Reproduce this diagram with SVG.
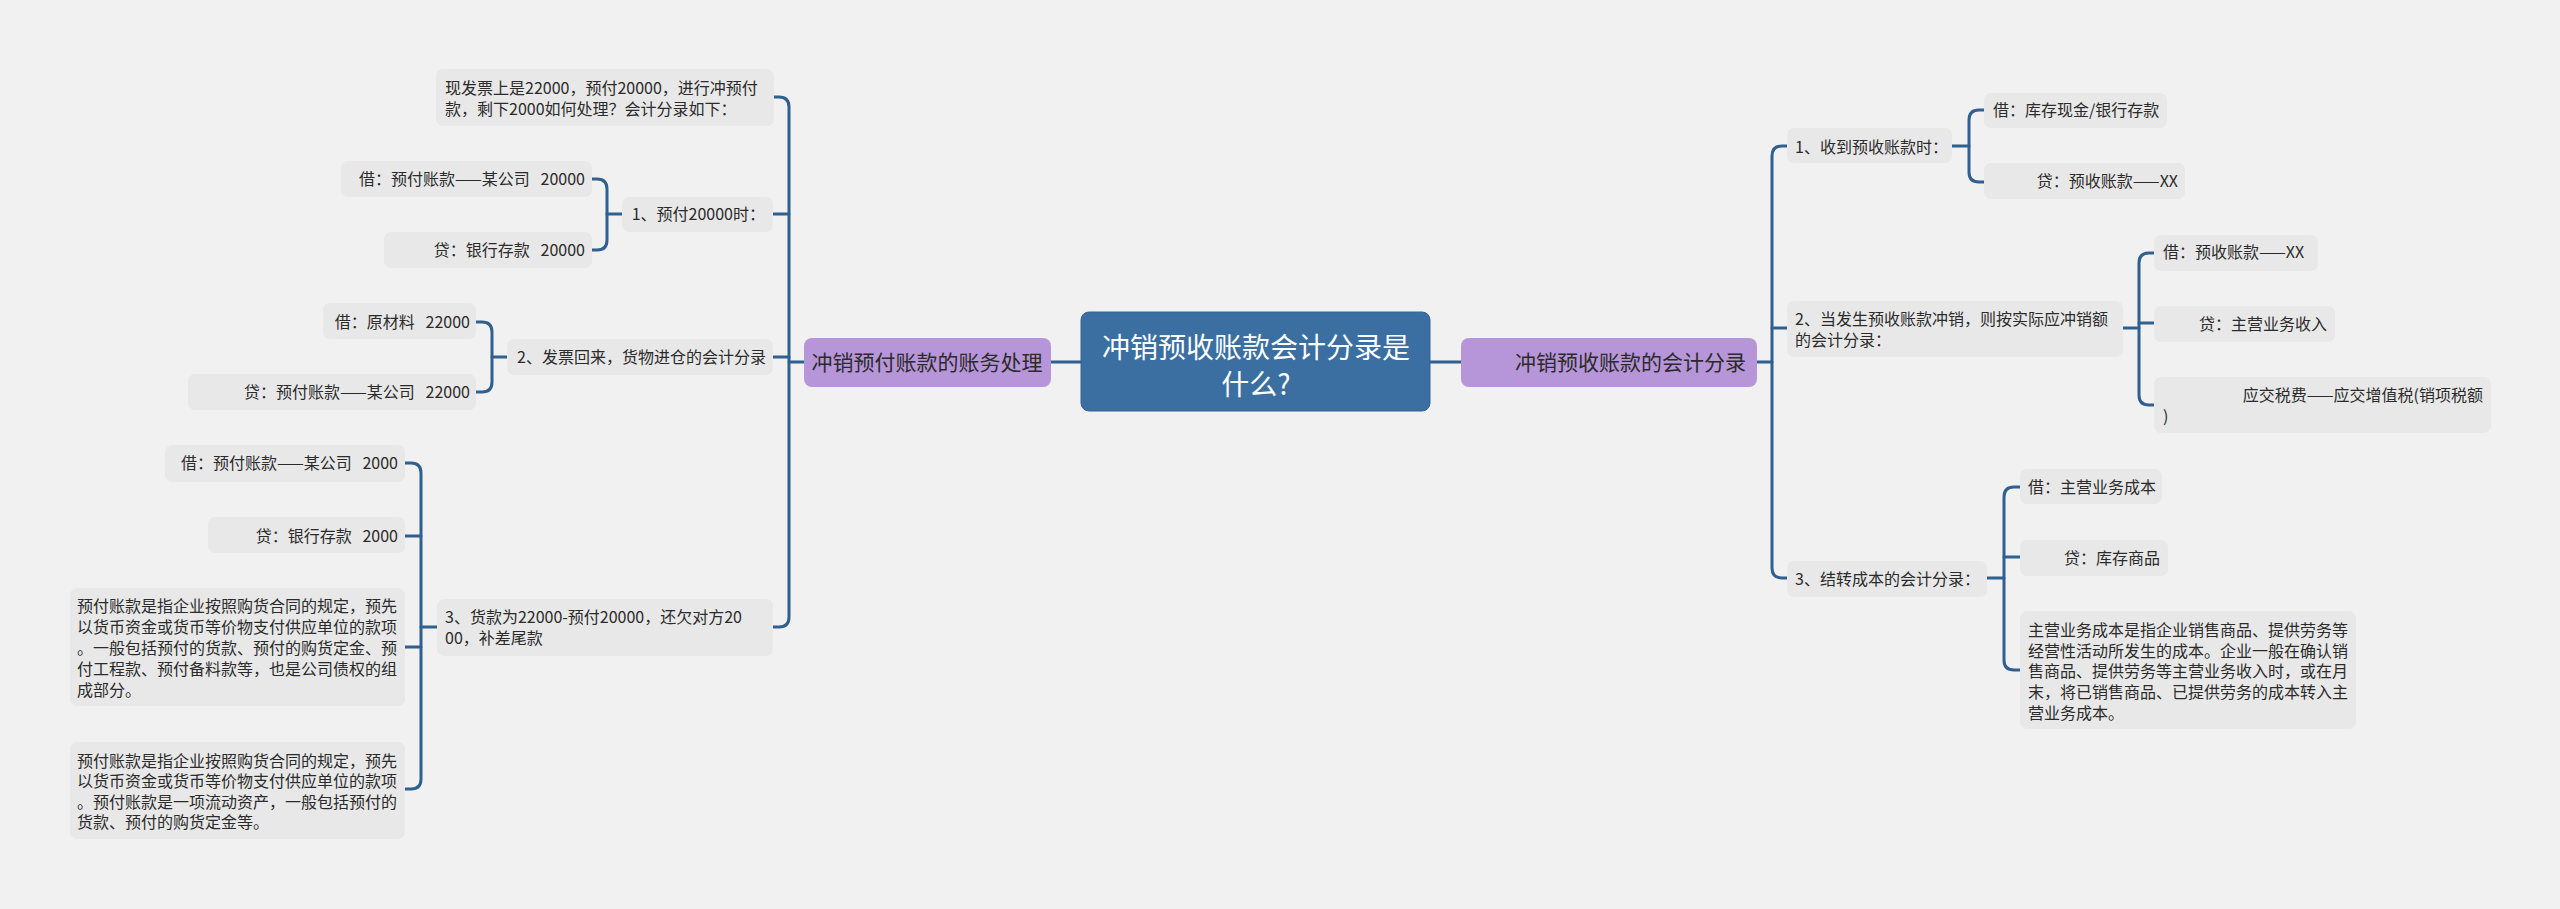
<svg xmlns="http://www.w3.org/2000/svg" width="2560" height="909" viewBox="0 0 2560 909">
<style>
.bg{fill:#f1f1f1}
.box{fill:#e8e8e8}
.t{font-family:"Noto Sans CJK SC","Noto Sans",sans-serif;font-size:16px;fill:#2b2b2b}
.e{text-anchor:end}
.sub{fill:#b795d9}
.st{font-family:"Noto Sans CJK SC","Noto Sans",sans-serif;font-size:21px;fill:#2b2b2b}
.root{fill:#3b6fa1;stroke:#33659a;stroke-width:1}
.rt{font-family:"Noto Sans CJK SC","Noto Sans",sans-serif;font-size:28px;fill:#ffffff;text-anchor:middle}
.c path{fill:none;stroke:#2f6090;stroke-width:3;stroke-linecap:round}
</style>
<rect class="bg" x="0" y="0" width="2560" height="909"/>
<g class="c" id="connectors">
<path d="M1051 362 H1081"/>
<path d="M1430 362 H1461"/>
<path d="M773 97 H779 Q789 97 789 107 V617 Q789 627 779 627 H773"/>
<path d="M804 362 H789"/>
<path d="M773 214 H789"/>
<path d="M773 357 H789"/>
<path d="M592 179 H597 Q607 179 607 189 V240 Q607 250 597 250 H592"/>
<path d="M622 214 H607"/>
<path d="M476 322 H482 Q492 322 492 332 V382 Q492 392 482 392 H476"/>
<path d="M507 357 H492"/>
<path d="M405 463 H411 Q421 463 421 473 V779 Q421 789 411 789 H405"/>
<path d="M437 627 H421"/>
<path d="M405 536 H421"/>
<path d="M405 647 H421"/>
<path d="M1787 146 H1782 Q1772 146 1772 156 V568 Q1772 578 1782 578 H1787"/>
<path d="M1757 362 H1772"/>
<path d="M1772 328 H1787"/>
<path d="M1984 110 H1979 Q1969 110 1969 120 V172 Q1969 182 1979 182 H1984"/>
<path d="M1952 146 H1969"/>
<path d="M2154 253 H2149 Q2139 253 2139 263 V395 Q2139 405 2149 405 H2154"/>
<path d="M2123 328 H2139"/>
<path d="M2139 323 H2154"/>
<path d="M2020 487 H2014 Q2004 487 2004 497 V660 Q2004 670 2014 670 H2020"/>
<path d="M1987 578 H2004"/>
<path d="M2004 557 H2020"/>
</g>
<g id="root"><rect class="root" x="1081" y="312" width="349" height="99" rx="8"/><text class="rt" x="1256" y="358">冲销预收账款会计分录是</text><text class="rt" x="1256" y="395">什么?</text></g>
<g id="left-main"><rect class="sub" x="804" y="338" width="247" height="49" rx="8"/><text class="st" x="927" y="369.5" text-anchor="middle">冲销预付账款的账务处理</text></g>
<g id="right-main"><rect class="sub" x="1461" y="338" width="296" height="49" rx="8"/><text class="st" x="1746" y="369.5" text-anchor="end">冲销预收账款的会计分录</text></g>
<g id="L0"><rect class="box" x="436" y="69" width="338" height="57" rx="7"/><text class="t" x="445" y="94">现发票上是22000，预付20000，进行冲预付</text><text class="t" x="445" y="115">款，剩下2000如何处理？会计分录如下：</text></g>
<g id="L1"><rect class="box" x="622" y="197" width="151" height="35" rx="7"/><text class="t e" x="765" y="220">1、预付20000时：</text></g>
<g id="L1a"><rect class="box" x="341" y="161" width="251" height="36" rx="7"/><text class="t e" x="585" y="185" xml:space="preserve">借：预付账款——某公司   20000</text></g>
<g id="L1b"><rect class="box" x="384" y="232" width="208" height="36" rx="7"/><text class="t e" x="585" y="256" xml:space="preserve">贷：银行存款   20000</text></g>
<g id="L2"><rect class="box" x="507" y="339" width="266" height="36" rx="7"/><text class="t e" x="766" y="362.5">2、发票回来，货物进仓的会计分录</text></g>
<g id="L2a"><rect class="box" x="323" y="303" width="153" height="36" rx="7"/><text class="t e" x="470" y="328" xml:space="preserve">借：原材料   22000</text></g>
<g id="L2b"><rect class="box" x="188" y="374" width="288" height="36" rx="7"/><text class="t e" x="470" y="398" xml:space="preserve">贷：预付账款——某公司   22000</text></g>
<g id="L3"><rect class="box" x="437" y="599" width="336" height="57" rx="7"/><text class="t" x="445" y="623">3、货款为22000-预付20000，还欠对方20</text><text class="t" x="445" y="644">00，补差尾款</text></g>
<g id="L3a"><rect class="box" x="165" y="445" width="240" height="37" rx="7"/><text class="t e" x="398" y="469" xml:space="preserve">借：预付账款——某公司   2000</text></g>
<g id="L3b"><rect class="box" x="208" y="517" width="197" height="36" rx="7"/><text class="t e" x="398" y="542" xml:space="preserve">贷：银行存款   2000</text></g>
<g id="L3c"><rect class="box" x="70" y="588" width="335" height="118" rx="7"/><text class="t" x="77" y="612">预付账款是指企业按照购货合同的规定，预先</text><text class="t" x="77" y="633">以货币资金或货币等价物支付供应单位的款项</text><text class="t" x="77" y="654">。一般包括预付的货款、预付的购货定金、预</text><text class="t" x="77" y="675">付工程款、预付备料款等，也是公司债权的组</text><text class="t" x="77" y="696">成部分。</text></g>
<g id="L3d"><rect class="box" x="70" y="742" width="335" height="97" rx="7"/><text class="t" x="77" y="767">预付账款是指企业按照购货合同的规定，预先</text><text class="t" x="77" y="787">以货币资金或货币等价物支付供应单位的款项</text><text class="t" x="77" y="808">。预付账款是一项流动资产，一般包括预付的</text><text class="t" x="77" y="828">货款、预付的购货定金等。</text></g>
<g id="R1"><rect class="box" x="1787" y="128" width="165" height="35" rx="7"/><text class="t" x="1795" y="153">1、收到预收账款时：</text></g>
<g id="R1a"><rect class="box" x="1984" y="93" width="183" height="35" rx="7"/><text class="t" x="1993" y="116">借：库存现金/银行存款</text></g>
<g id="R1b"><rect class="box" x="1984" y="163" width="201" height="36" rx="7"/><text class="t e" x="2178" y="187">贷：预收账款——XX</text></g>
<g id="R2"><rect class="box" x="1787" y="301" width="336" height="56" rx="7"/><text class="t" x="1795" y="325">2、当发生预收账款冲销，则按实际应冲销额</text><text class="t" x="1795" y="346">的会计分录：</text></g>
<g id="R2a"><rect class="box" x="2154" y="235" width="164" height="36" rx="7"/><text class="t" x="2163" y="258">借：预收账款——XX</text></g>
<g id="R2b"><rect class="box" x="2154" y="306" width="181" height="36" rx="7"/><text class="t e" x="2327" y="330">贷：主营业务收入</text></g>
<g id="R2c"><rect class="box" x="2154" y="377" width="337" height="56" rx="7"/><text class="t e" x="2483" y="401">应交税费——应交增值税(销项税额</text><text class="t" x="2163" y="422">)</text></g>
<g id="R3"><rect class="box" x="1787" y="561" width="200" height="36" rx="7"/><text class="t" x="1795" y="585">3、结转成本的会计分录：</text></g>
<g id="R3a"><rect class="box" x="2020" y="469" width="142" height="35" rx="7"/><text class="t" x="2028" y="493">借：主营业务成本</text></g>
<g id="R3b"><rect class="box" x="2020" y="540" width="148" height="36" rx="7"/><text class="t e" x="2160" y="564">贷：库存商品</text></g>
<g id="R3c"><rect class="box" x="2020" y="611" width="336" height="118" rx="7"/><text class="t" x="2028" y="636">主营业务成本是指企业销售商品、提供劳务等</text><text class="t" x="2028" y="657">经营性活动所发生的成本。企业一般在确认销</text><text class="t" x="2028" y="677">售商品、提供劳务等主营业务收入时，或在月</text><text class="t" x="2028" y="698">末，将已销售商品、已提供劳务的成本转入主</text><text class="t" x="2028" y="719">营业务成本。</text></g>
</svg>
